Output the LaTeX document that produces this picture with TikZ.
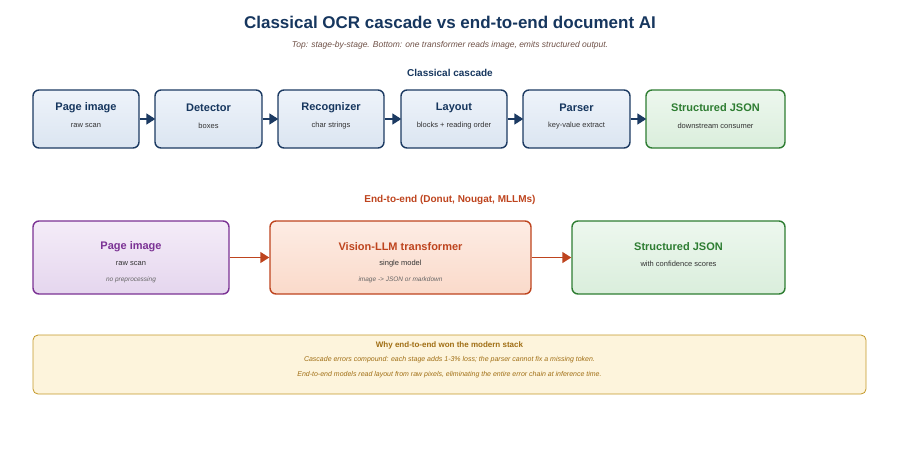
\documentclass[tikz,border=0pt]{standalone}
\usepackage{fontspec}
\setmainfont{Liberation Sans}
\usetikzlibrary{arrows.meta,positioning}
\definecolor{navyText}{RGB}{22, 54, 94}
\definecolor{navyLine}{RGB}{28, 58, 98}
\definecolor{blueTop}{RGB}{238, 243, 250}
\definecolor{blueBot}{RGB}{219, 229, 241}
\definecolor{greenLine}{RGB}{46, 125, 50}
\definecolor{greenTop}{RGB}{237, 247, 238}
\definecolor{greenBot}{RGB}{218, 238, 220}
\definecolor{purpleLine}{RGB}{123, 50, 148}
\definecolor{purpleTop}{RGB}{244, 236, 248}
\definecolor{purpleBot}{RGB}{229, 214, 238}
\definecolor{rustLine}{RGB}{190, 68, 30}
\definecolor{rustTop}{RGB}{253, 236, 228}
\definecolor{rustBot}{RGB}{250, 218, 202}
\definecolor{goldLine}{RGB}{196, 152, 40}
\definecolor{goldFill}{RGB}{253, 244, 220}
\definecolor{goldText}{RGB}{160, 110, 20}
\definecolor{subGray}{RGB}{110, 80, 70}

\begin{document}
\begin{tikzpicture}[x=1pt,y=-1pt,
        stagebox/.style={draw=navyLine,line width=1.4pt,rounded corners=6pt,
                        top color=blueTop,bottom color=blueBot,minimum height=58pt},
        outbox/.style={draw=greenLine,line width=1.4pt,rounded corners=6pt,
                        top color=greenTop,bottom color=greenBot},
        title/.style={font=\bfseries\fontsize{11}{13}\selectfont},
        sub/.style={font=\fontsize{7.5}{9}\selectfont,text=black!80},
        note/.style={font=\itshape\fontsize{6.5}{8}\selectfont,text=black!60},
        flow/.style={-{Triangle[length=9pt,width=11pt]},line width=1.6pt}
    ]
        \useasboundingbox (0,0) rectangle (900,475);
        \node[font=\bfseries\fontsize{17}{20}\selectfont,text=navyText] (head) at (450,22) {Classical OCR cascade vs end-to-end document AI};
        \node[font=\itshape\fontsize{8.5}{10}\selectfont,text=subGray] (subhead) at (450,45) {Top: stage-by-stage. Bottom: one transformer reads image, emits structured output.};

        % classical cascade
        \node[font=\bfseries\fontsize{10}{12}\selectfont,text=navyText] (cascadeHead) at (450,73) {Classical cascade};
        \foreach \name/\cx/\bw/\ttl/\sbt in {page/86/106/Page image/raw scan,
                detector/208.5/107/Detector/boxes,
                recog/331/106/Recognizer/char strings,
                layout/454/106/Layout/blocks + reading order,
                parser/576.5/107/Parser/key-value extract} {
            \node[stagebox,minimum width=\bw pt] (\name) at (\cx,119) {};
            \node[title,text=navyText] (\name T) at (\cx,108) {\ttl};
            \node[sub] (\name S) at (\cx,126) {\sbt};
        }
        \node[outbox,minimum width=139pt,minimum height=58pt] (json) at (715.5,119) {};
        \node[title,text=greenLine] (jsonT) at (715.5,108) {Structured JSON};
        \node[sub] (jsonS) at (715.5,126) {downstream consumer};
        \foreach \a/\b in {page/detector,detector/recog,recog/layout,layout/parser,parser/json}
            \draw[flow,navyLine,shorten >=-1pt] (\a) -- (\b);

        % end-to-end
        \node[font=\bfseries\fontsize{10}{12}\selectfont,text=rustLine] (e2eHead) at (450,200) {End-to-end (Donut, Nougat, MLLMs)};
        \node[draw=purpleLine,line width=1.4pt,rounded corners=6pt,top color=purpleTop,bottom color=purpleBot,
              minimum width=196pt,minimum height=73pt] (pageB) at (131,257.5) {};
        \node[draw=rustLine,line width=1.4pt,rounded corners=6pt,top color=rustTop,bottom color=rustBot,
              minimum width=261pt,minimum height=73pt] (vlm) at (400.5,257.5) {};
        \node[outbox,minimum width=213pt,minimum height=73pt] (jsonB) at (678.5,257.5) {};
        \node[title,text=purpleLine] at (131,247) {Page image};
        \node[sub] at (131,264) {raw scan};
        \node[note] at (131,280) {no preprocessing};
        \node[title,text=rustLine] at (400.5,247) {Vision-LLM transformer};
        \node[sub] at (400.5,264) {single model};
        \node[note] at (400.5,280) {image -> JSON or markdown};
        \node[title,text=greenLine] at (678.5,247) {Structured JSON};
        \node[sub] at (678.5,264) {with confidence scores};
        \draw[flow,rustLine,line width=1.4pt] (pageB) -- (vlm);
        \draw[flow,rustLine,line width=1.4pt] (vlm) -- (jsonB);

        % takeaway
        \node[draw=goldLine,fill=goldFill,rounded corners=5pt,line width=0.8pt,
              minimum width=833pt,minimum height=59pt] (why) at (449.5,364.5) {};
        \node[font=\bfseries\fontsize{8}{10}\selectfont,text=goldText] at (449.5,345) {Why end-to-end won the modern stack};
        \node[font=\itshape\fontsize{7}{9}\selectfont,text=goldText] at (449.5,360) {Cascade errors compound: each stage adds 1-3\% loss; the parser cannot fix a missing token.};
        \node[font=\itshape\fontsize{7}{9}\selectfont,text=goldText] at (449.5,375) {End-to-end models read layout from raw pixels, eliminating the entire error chain at inference time.};
    \end{tikzpicture}
\end{document}
